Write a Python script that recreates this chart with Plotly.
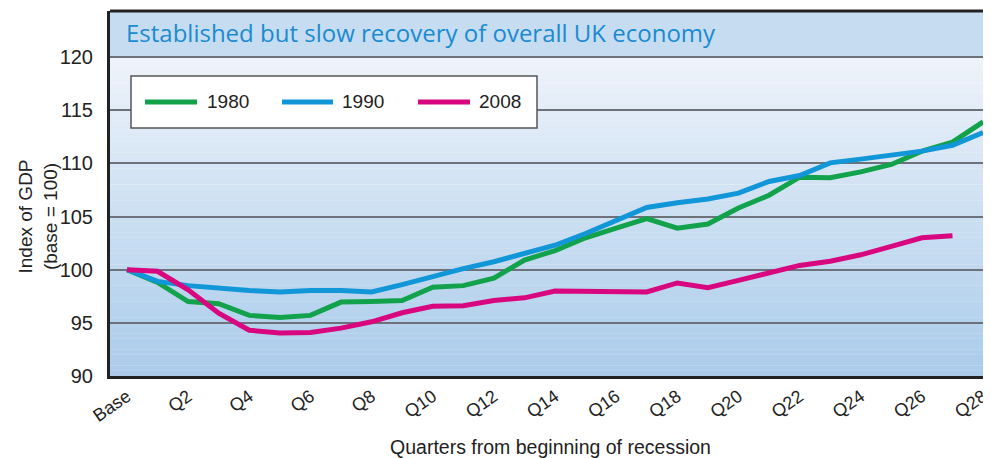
import plotly.graph_objects as go

quarters = list(range(0, 29))
tick_vals = list(range(0, 29, 2))
tick_text = ["Base"] + [f"Q{q}" for q in range(2, 29, 2)]

gdp_1980 = [100.0, 98.8, 97.0, 96.8, 95.7, 95.5, 95.7, 96.95, 97.0, 97.1, 98.35, 98.5, 99.2,
            100.9, 101.8, 103.0, 103.9, 104.8, 103.9, 104.3, 105.8, 107.0, 108.7, 108.65,
            109.2, 109.9, 111.15, 112.0, 113.9]
gdp_1990 = [100.0, 98.9, 98.5, 98.25, 98.05, 97.9, 98.05, 98.05, 97.9, 98.6, 99.4, 100.1,
            100.75, 101.5, 102.3, 103.4, 104.6, 105.85, 106.3, 106.65, 107.2, 108.3, 108.85,
            110.05, 110.4, 110.75, 111.15, 111.7, 112.9]
gdp_2008 = [100.0, 99.85, 98.1, 95.9, 94.3, 94.05, 94.1, 94.5, 95.1, 95.95, 96.55, 96.6,
            97.1, 97.35, 98.0, 98.0, 98.0, 97.9, 98.75, 98.3, 99.0, 99.7, 100.4, 100.8,
            101.4, 102.2, 103.0, 103.2]

series = [("1980", gdp_1980, "#12a24b"), ("1990", gdp_1990, "#1196d8"), ("2008", gdp_2008, "#d8077f")]

FONT = "Liberation Sans, Arial, sans-serif"
TITLE_FONT = "Open Sans, Liberation Sans, sans-serif"

fig = go.Figure()
for name, vals, col in series:
    fig.add_trace(go.Scatter(x=quarters[:len(vals)], y=vals, mode="lines", name=name,
                             line=dict(color=col, width=5), showlegend=False))

# background gradient stripes
def lerp(c1, c2, t):
    return "#%02x%02x%02x" % tuple(round(a + (b - a) * t) for a, b in zip(c1, c2))

top = (0xee, 0xf3, 0xfa)
bot = (0xa9, 0xcb, 0xea)
N = 60
shapes = []
for i in range(N):
    y0 = 90 + 30 * i / N
    y1 = 90 + 30 * (i + 1) / N
    t = 1 - (i + 0.5) / N
    shapes.append(dict(type="rect", xref="paper", yref="y", x0=0, x1=1, y0=y0, y1=y1 + 0.02,
                       fillcolor=lerp(top, bot, t), line=dict(width=0), layer="below"))
# title band
shapes.append(dict(type="rect", xref="paper", yref="paper", x0=0, x1=1, y0=(376 - 57) / 365, y1=1,
                   fillcolor="#c6dcf0", line=dict(width=0), layer="below"))
shapes.append(dict(type="line", xref="paper", yref="paper", x0=0, x1=1, y0=1, y1=1,
                   line=dict(color="#222222", width=3)))

# pixel helpers (page pixels; page body has 8px margin)
def px_x(p):
    return (p - 110) / 881

def px_y(p):
    return (376 - p) / 365

shapes.append(dict(type="rect", xref="paper", yref="paper", x0=px_x(131), x1=px_x(537),
                   y0=px_y(128), y1=px_y(76), fillcolor="white",
                   line=dict(color="#555555", width=1.5)))
annotations = []
leg_pos = [(145, 197, 205), (282, 333, 340), (418, 470, 477)]
for (name, vals, col), (a, b, tx) in zip(series, leg_pos):
    shapes.append(dict(type="line", xref="paper", yref="paper", x0=px_x(a), x1=px_x(b),
                       y0=px_y(102), y1=px_y(102), line=dict(color=col, width=5)))
    annotations.append(dict(text=name, xref="paper", yref="paper", x=px_x(tx), y=px_y(102),
                            xanchor="left", yanchor="middle", showarrow=False,
                            font=dict(family=FONT, size=19, color="#222222")))

annotations.append(dict(text="Established but slow recovery of overall UK economy",
                        xref="paper", yref="paper", x=px_x(124), y=px_y(33),
                        xanchor="left", yanchor="middle", showarrow=False,
                        font=dict(family=TITLE_FONT, size=24, color="#1a8bd2")))
annotations.append(dict(text="Index of GDP<br>(base = 100)", xref="paper", yref="y",
                        x=0, xshift=-72, y=105, textangle=-90, showarrow=False,
                        xanchor="center", yanchor="middle",
                        font=dict(family=FONT, size=19, color="#222222")))

fig.update_layout(
    width=983, height=450,
    margin=dict(l=102, r=0, t=3, b=82),
    paper_bgcolor="white", plot_bgcolor="white",
    shapes=shapes, annotations=annotations,
    xaxis=dict(range=[-0.556, 28.26], tickvals=tick_vals, ticktext=tick_text, tickangle=-35,
               showgrid=False, zeroline=False, showline=True, linecolor="#222222", linewidth=3,
               ticks="", automargin=False, tickfont=dict(family=FONT, size=18, color="#222222"),
               title=dict(text="Quarters from beginning of recession", standoff=16,
                          font=dict(family=FONT, size=19.5, color="#222222"))),
    yaxis=dict(range=[90, 124.33], tickvals=[90, 95, 100, 105, 110, 115, 120],
               showgrid=True, gridcolor="#6c717a", gridwidth=2, zeroline=False,
               showline=True, linecolor="#222222", linewidth=3, ticks="", automargin=False,
               ticklabelstandoff=10,
               tickfont=dict(family=FONT, size=20, color="#222222")),
)

fig.write_html("out.html")
